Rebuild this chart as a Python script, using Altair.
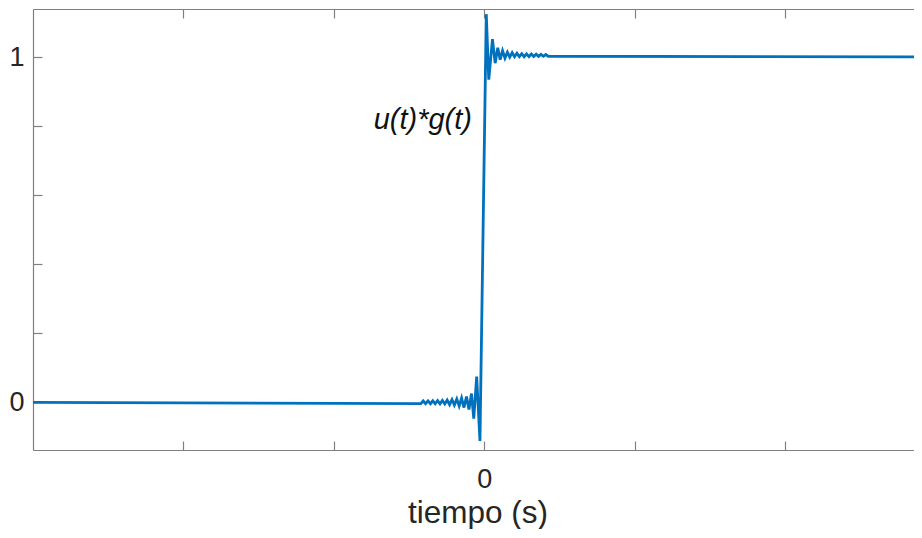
import altair as alt
import pandas as pd

# Curve: flat tails plus the ringing extrema around the step
t_s = [-3.0, -0.4219, -0.4060, -0.3900, -0.3741, -0.3581, -0.3422, -0.3262, -0.3103,
       -0.2943, -0.2784, -0.2625, -0.2465, -0.2306, -0.2146, -0.1987, -0.1827, -0.1668,
       -0.1508, -0.1349, -0.1183, -0.1017, -0.0850, -0.0698, -0.0505, -0.0286,
       0.0133, 0.0299, 0.0545, 0.0724, 0.0897, 0.1056, 0.1216, 0.1375, 0.1535,
       0.1694, 0.1854, 0.2013, 0.2173, 0.2332, 0.2492, 0.2651, 0.2810, 0.2970,
       0.3129, 0.3289, 0.3448, 0.3608, 0.3767, 0.3927, 0.4086, 0.4246, 3.0]
y_vals = [0.0, -0.0036, 0.0040, -0.0038, 0.0042, -0.0040, 0.0045, -0.0042, 0.0048,
          -0.0045, 0.0052, -0.0049, 0.0067, -0.0064, 0.0081, -0.0078, 0.0096, -0.0107,
          0.0125, -0.0151, 0.0168, -0.0209, 0.0255, -0.0470, 0.0748, -0.1120,
          1.1241, 0.9342, 1.0516, 0.9820, 1.0270, 0.9922, 1.0183, 0.9965, 1.0139,
          0.9994, 1.0125, 1.0009, 1.0110, 1.0009, 1.0096, 1.0009, 1.0090, 1.0012,
          1.0085, 1.0015, 1.0080, 1.0018, 1.0075, 1.0020, 1.0070, 1.0022, 1.0]

x_ticks = [-2, -1, 0, 1, 2]
x_labels = [0]
y_ticks = [0, 0.2, 0.4, 0.6, 0.8, 1]
y_labels = [0, 1]

note_text = ["u(t)*g(t)"]
note_t = [-0.082]
note_y = [0.817]

x_domain = [-3, 2.91]
y_domain = [-0.138, 1.139]

W, H = 889, 441
GRAY = "#808080"
TXT = "#262626"
FONT = "Liberation Sans"

curve = pd.DataFrame({"t": t_s, "y": y_vals})
notes = pd.DataFrame({"tx": note_t, "ty": note_y, "label": note_text})

xs = alt.Scale(domain=x_domain, nice=False, zero=False)
ys = alt.Scale(domain=y_domain, nice=False, zero=False)

line = alt.Chart(curve).mark_line(color="#0072BD", strokeWidth=2.8, clip=True).encode(
    x=alt.X("t:Q", scale=xs, axis=alt.Axis(
        values=x_labels, format="d", ticks=False, grid=False, domain=True,
        domainColor=GRAY, domainWidth=1.2, labelFontSize=27, labelColor=TXT,
        labelFont=FONT, labelBaseline="alphabetic", labelPadding=37,
        title="tiempo (s)", titleFontSize=31.5, titleFont=FONT, titleColor=TXT,
        titleFontWeight="normal", titleBaseline="alphabetic", titleY=72)),
    y=alt.Y("y:Q", scale=ys, axis=alt.Axis(
        values=y_labels, format="d", ticks=False, grid=False, domain=True,
        domainColor=GRAY, domainWidth=1.2, labelFontSize=27, labelColor=TXT,
        labelFont=FONT, labelPadding=9, title=None)),
)

text = alt.Chart(notes).mark_text(
    align="right", baseline="middle", font=FONT, fontSize=29,
    fontStyle="italic", color="#111111"
).encode(
    x=alt.X("tx:Q", scale=xs, axis=alt.Axis(
        orient="top", offset=-H, values=x_ticks, labels=False, domain=False,
        ticks=True, tickSize=9, tickColor=GRAY, tickWidth=1.2, grid=False, title=None)),
    y=alt.Y("ty:Q", scale=ys, axis=alt.Axis(
        orient="right", offset=-W, values=y_ticks, labels=False, domain=False,
        ticks=True, tickSize=9, tickColor=GRAY, tickWidth=1.2, grid=False, title=None)),
    text="label:N",
)

topframe = alt.Chart(notes).mark_point(opacity=0).encode(
    x=alt.X("tx:Q", scale=xs, axis=alt.Axis(
        orient="bottom", offset=-H, values=x_ticks, labels=False, domain=True,
        domainColor=GRAY, domainWidth=1.2, ticks=True, tickSize=9, tickColor=GRAY,
        tickWidth=1.2, grid=False, title=None)),
    y=alt.Y("ty:Q", scale=ys, axis=None),
)

chart = alt.layer(line, text, topframe).resolve_axis(
    x="independent", y="independent"
).properties(
    width=W, height=H, autosize="none",
    padding={"left": 25, "top": 1, "right": -8, "bottom": 79},
).configure_view(stroke=None).configure(background="white")

chart.save("out.html", embed_options={"renderer": "svg", "actions": False})
